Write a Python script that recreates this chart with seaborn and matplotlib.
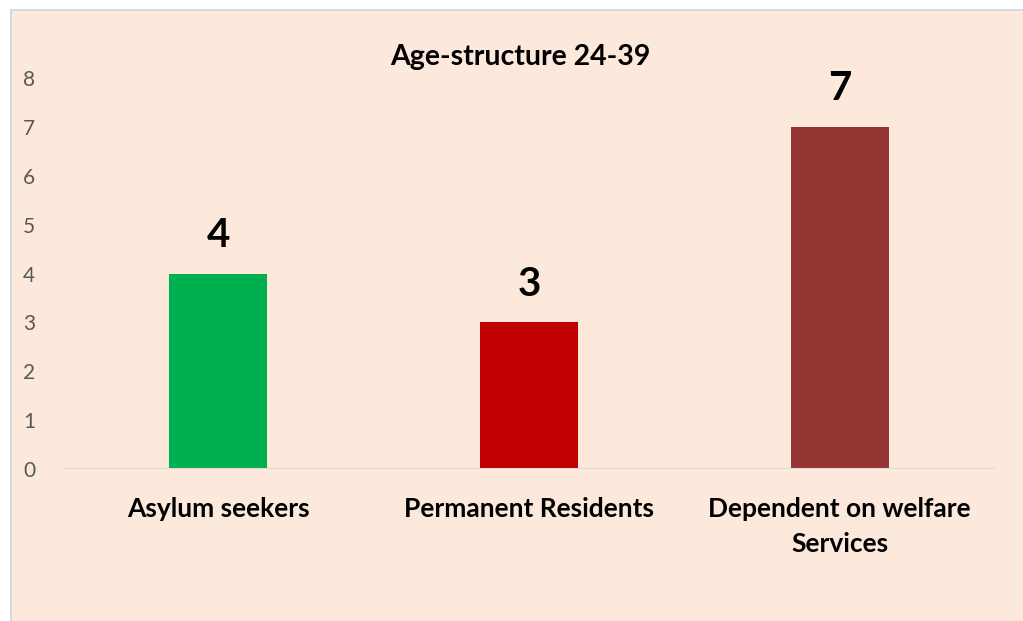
import matplotlib.pyplot as plt
import matplotlib.patches as mpatches
import seaborn as sns
import pandas as pd

categories = ["Asylum seekers", "Permanent Residents", "Dependent on welfare\nServices"]
values = [4, 3, 7]
colors = ["#00B050", "#C00000", "#943634"]

df = pd.DataFrame({"group": categories, "count": values})

sns.set_style("white")
plt.rcParams['font.family'] = ['Lato', 'DejaVu Sans']

W, H = 1023, 621
fig = plt.figure(figsize=(W / 100, H / 100), dpi=100)
fig.patch.set_facecolor("white")

# panel background with thin gray edge on left/top
bg = mpatches.Rectangle((11 / W, -0.01), 1.02 - 11 / W, 1.01 - 10 / H,
                        transform=fig.transFigure, facecolor="#FCE9DB",
                        edgecolor="#D9D9D9", linewidth=1.5, zorder=-10)
fig.patches.append(bg)

ax = fig.add_axes([63 / W, 152 / H, 932 / W, 391 / H])
ax.set_facecolor("none")

sns.barplot(data=df, x="group", y="count", hue="group", palette=colors,
            width=0.315, legend=False, ax=ax, saturation=1, linewidth=0)

ax.set_ylim(0, 8)
ax.set_xlim(-0.5, 2.5)
ax.set_yticks(range(0, 9))
for s in ax.spines.values():
    s.set_visible(False)
ax.axhline(0, color="#D9D9D9", linewidth=1.5, zorder=1)

ax.tick_params(axis="y", labelsize=15, labelcolor="#595959", length=0, pad=20)
ax.tick_params(axis="x", labelsize=19, length=0, pad=20)
for lbl in ax.get_xticklabels():
    lbl.set_fontweight("bold")
    lbl.set_color("black")
    lbl.set_linespacing(1.55)
ax.set_xlabel("")
ax.set_ylabel("")

for i, v in enumerate(values):
    ax.annotate(str(v), (i, v), xytext=(0, 14), textcoords="offset points",
                ha="center", va="bottom", fontsize=29, fontweight="bold",
                color="black")

fig.text(520 / W, 1 - 57 / H, "Age-structure 24-39", ha="center", va="center",
         fontsize=20.5, fontweight="bold", color="black")

fig.savefig("out.png", dpi=100, facecolor=fig.get_facecolor())
